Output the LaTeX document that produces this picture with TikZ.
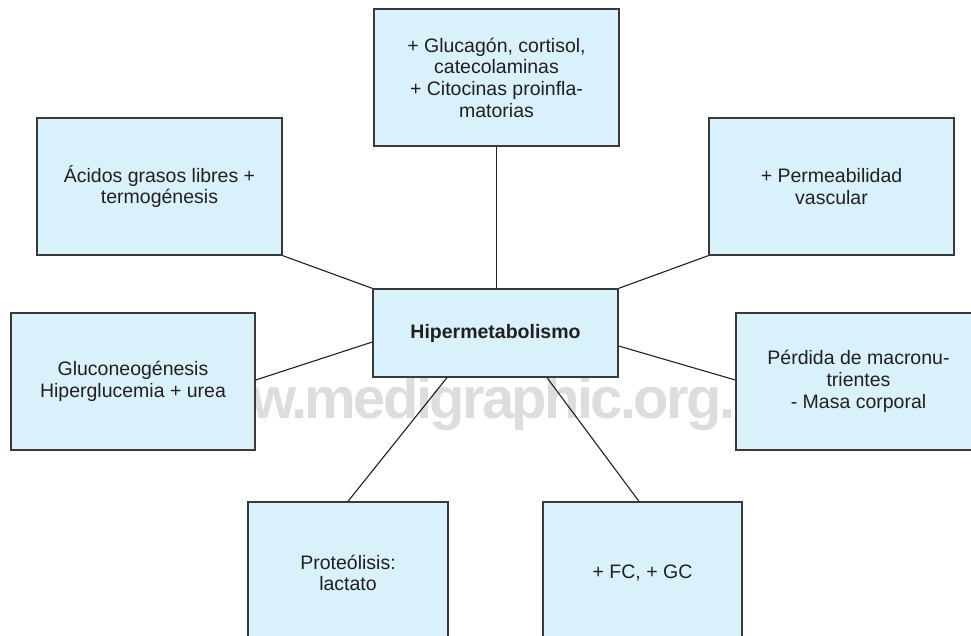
\documentclass[tikz,border=0pt]{standalone}
\usepackage{fontspec}
\setmainfont{Liberation Sans}
\newfontfamily\wmfont[LetterSpace=-4.6]{Liberation Sans}
\definecolor{boxfill}{RGB}{217,241,250}
\definecolor{edge}{RGB}{58,58,58}
\definecolor{ink}{RGB}{35,31,32}
\definecolor{wmgray}{RGB}{220,221,223}
\begin{document}
\begin{tikzpicture}[x=1pt,y=-1pt,
  box/.style={draw=edge, line width=1.3pt, fill=boxfill, text=ink, align=center,
    inner sep=0pt, font=\fontsize{19.5}{21.7}\selectfont},
  wide/.style={minimum width=245pt, minimum height=137pt},
  low/.style={minimum width=200pt, minimum height=142pt},
  link/.style={draw=ink, line width=1.1pt},
  watermark/.style={text=wmgray, inner sep=0pt, anchor=base west,
    font=\wmfont\bfseries\fontsize{58}{60}\selectfont}]
\useasboundingbox (0,0) rectangle (971,636);
\node[watermark] (wm) at (251,418) {w.medigraphic.org.};
% nodes
\node[box, wide] (top) at (496.5,77.5) {+ Glucagón, cortisol,\\catecolaminas\\+ Citocinas proinfla-\\matorias};
\node[box, wide] (acidos) at (159.5,186.5) {Ácidos grasos libres +\\termogénesis};
\node[box, wide] (perm) at (831.5,186.5) {+ Permeabilidad\\vascular};
\node[box, minimum width=245pt, minimum height=88pt, font=\bfseries\fontsize{19.5}{21.7}\selectfont] (hiper) at (495.5,333) {Hipermetabolismo};
\node[box, wide, minimum width=244pt] (gluco) at (133,381.5) {Gluconeogénesis\\Hiperglucemia + urea};
\node[box, wide] (perdida) at (858.5,381.5) {Pérdida de macronu-\\trientes\\- Masa corporal};
\node[box, low] (prot) at (348,573) {Proteólisis:\\lactato};
\node[box, low, minimum width=199pt] (fc) at (642.5,573) {+ FC, + GC};
% connectors
\draw[link] (top.south) -- (top.south |- hiper.north);
\draw[link] (acidos.south east) -- (hiper.north west);
\draw[link] (perm.south west) -- (hiper.north east);
\draw[link] ([yshift=1.5pt]gluco.east) -- ([yshift=-9pt]hiper.west);
\draw[link] ([yshift=-13pt]hiper.east) -- ([yshift=1.5pt]perdida.west);
\draw[link] ([xshift=-48.5pt]hiper.south) -- (prot.north);
\draw[link] ([xshift=51.5pt]hiper.south) -- ([xshift=-3.5pt]fc.north);
\end{tikzpicture}
\end{document}
